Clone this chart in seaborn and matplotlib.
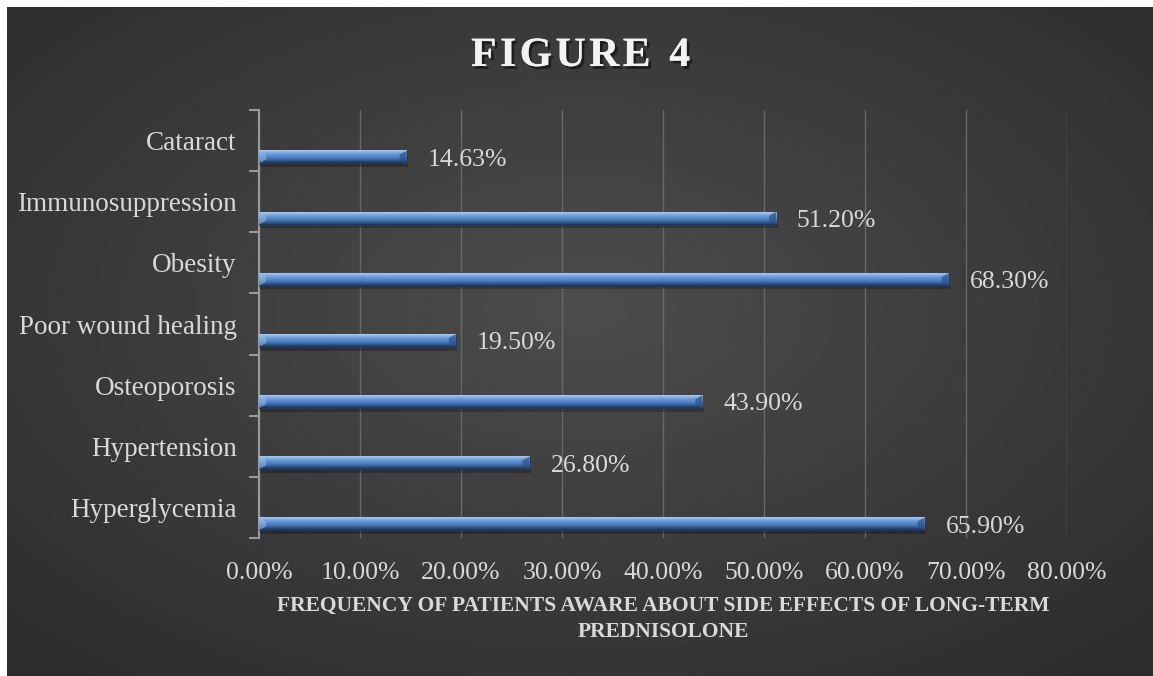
import numpy as np
import pandas as pd
import matplotlib
matplotlib.use("Agg")
import matplotlib.pyplot as plt
import matplotlib.patheffects as pe
from matplotlib.colors import LinearSegmentedColormap
from matplotlib.ticker import FuncFormatter, FixedLocator
import seaborn as sns

# Side effects patients were aware of (top to bottom) and the share of patients
side_effects = ["Cataract", "Immunosuppression", "Obesity", "Poor wound healing",
                "Osteoporosis", "Hypertension", "Hyperglycemia"]
percent_aware = [14.63, 51.20, 68.30, 19.50, 43.90, 26.80, 65.90]
x_ticks = [0, 10, 20, 30, 40, 50, 60, 70, 80]

df = pd.DataFrame({"effect": side_effects, "pct": percent_aware})

sns.set_theme(style="white")
plt.rcParams["font.family"] = ["Liberation Serif", "DejaVu Serif"]

W, H = 1153, 676
fig = plt.figure(figsize=(W / 100, H / 100), dpi=100, facecolor="white")

# Dark radial-gradient backdrop
bg = fig.add_axes([7 / W, 0, 1 - 7 / W, 1 - 7 / H], zorder=-10)
yy, xx = np.mgrid[0:1:400j, 0:1:700j]
r = np.sqrt(((xx - 0.5) / 0.75) ** 2 + ((yy - 0.45) / 0.75) ** 2)
shade = np.clip(0.30 - 0.13 * r, 0.14, 0.30)
bg.imshow(shade, cmap="gray", vmin=0, vmax=1, aspect="auto", extent=(0, 1, 0, 1),
          interpolation="bilinear")
bg.set_axis_off()

ax = fig.add_axes([259 / W, 1 - 538 / H, (1067 - 259) / W, (538 - 110) / H])
ax.patch.set_alpha(0)

sns.barplot(data=df, y="effect", x="pct", order=side_effects, orient="h",
            width=0.21, color="#4f81bd", ax=ax, zorder=3)

ax.set_xlim(0, 80)
ax.set_ylim(len(side_effects) - 0.5, -0.5)

# Bars sit in the lower part of each category band, with a bevel shading
bar_cmap = LinearSegmentedColormap.from_list(
    "bevel", ["#a9cbf3", "#7fa9de", "#5d8fd2", "#4b7dc0", "#33598c", "#1c3354"])
grad = np.linspace(0, 1, 64).reshape(-1, 1)
shift = 0.27
for p in ax.patches:
    p.set_y(p.get_y() + shift)
    x0, y0, w, h = p.get_x(), p.get_y(), p.get_width(), p.get_height()
    p.set_edgecolor("#1c3354")
    p.set_linewidth(0.6)
    # soft shadow under each bar
    ax.fill_between([x0, x0 + w + 0.15], y0 + h, y0 + h + 0.06,
                    color="black", alpha=0.25, lw=0, zorder=2)
    ax.imshow(grad, cmap=bar_cmap, aspect="auto", zorder=4,
              extent=(x0, x0 + w, y0 + h, y0), interpolation="bilinear")
    # bevelled end caps
    ax.fill([x0 + w - 0.7, x0 + w, x0 + w, x0 + w - 0.7],
            [y0 + h * 0.3, y0, y0 + h, y0 + h * 0.7],
            color="#2e5183", alpha=0.7, lw=0, zorder=5)
    ax.fill([x0, x0 + 0.7, x0 + 0.7, x0],
            [y0, y0 + h * 0.3, y0 + h * 0.7, y0 + h],
            color="#9fc1ee", alpha=0.5, lw=0, zorder=5)

ax.set_xlim(0, 80)
ax.set_ylim(len(side_effects) - 0.5, -0.5)

text_col = "#d9d9d9"
for c in ax.containers:
    for lbl in ax.bar_label(c, labels=[f"{v:.2f}%" for v in percent_aware],
                            padding=15, color=text_col, fontsize=18.5):
        lbl.set_va("center")
        lbl.xyann = (lbl.xyann[0], -2)

ax.xaxis.set_major_locator(FixedLocator(x_ticks))
ax.xaxis.set_major_formatter(FuncFormatter(lambda v, _: f"{v:.2f}%"))
ax.grid(axis="x", color="#686868", linewidth=1, zorder=0)
ax.grid(axis="y", visible=False)
ax.tick_params(axis="x", length=0, pad=17, labelsize=18.5, labelcolor=text_col)
ax.tick_params(axis="y", which="major", left=False, length=0, pad=16,
               labelsize=19.5, labelcolor=text_col)
ax.set_yticks(np.arange(-0.5, len(side_effects) + 0.5, 1), minor=True)
ax.tick_params(axis="y", which="minor", left=True, length=7, width=1.5,
               color="#9a9a9a", direction="out")
for s in ["top", "right", "bottom"]:
    ax.spines[s].set_visible(False)
ax.spines["left"].set_color("#9a9a9a")
ax.spines["left"].set_linewidth(1.5)

ax.set_ylabel("")
ax.set_xlabel("FREQUENCY OF PATIENTS AWARE ABOUT SIDE EFFECTS OF LONG-TERM\nPREDNISOLONE",
              fontsize=15.5, fontweight="bold", color=text_col, labelpad=9,
              linespacing=1.4)

title = "\u200a".join("FIGURE") + " \u2009" + "4"
fig.text(0.5 + 4 / W, 1 - 56 / H, title,
         ha="center", va="center", fontsize=30, fontweight="bold", color="#f2f2f2",
         path_effects=[pe.withSimplePatchShadow(offset=(2, -2), shadow_rgbFace="black",
                                                alpha=0.5), pe.Normal()])

fig.savefig("out.png", dpi=100, facecolor=fig.get_facecolor())
